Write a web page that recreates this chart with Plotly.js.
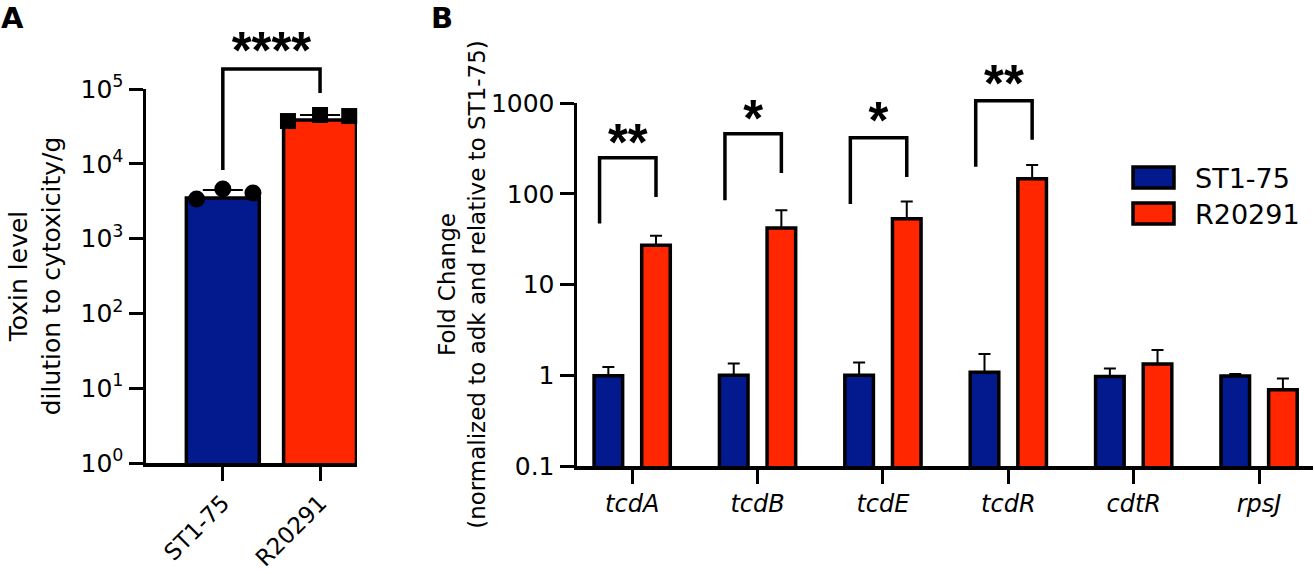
<!DOCTYPE html>
<html><head><meta charset="utf-8">
<script src="https://cdn.plot.ly/plotly-3.0.1.min.js"></script>
<style>html,body{margin:0;padding:0;background:#fff}#chart{width:1315px;height:574px}</style>
</head><body><div id="chart"></div>
<script>
// ---------- Panel A data ----------
const strains = ['ST1-75', 'R20291'];
const strainColors = ['#021a8e', '#ff2600'];
const toxinMean = [3500, 38500];
const toxinSD = [950, 6400];
const toxinST175 = [3380, 4600, 4070];
const toxinR20291 = [37300, 44900, 43500];
const jitterST175 = [-0.27, 0, 0.31];
const jitterR20291 = [-0.33, 0, 0.30];
const toxinTickVals = [1, 10, 100, 1000, 10000, 100000];
const toxinTickText = ['10<sup>0</sup>', '10<sup>1</sup>', '10<sup>2</sup>', '10<sup>3</sup>', '10<sup>4</sup>', '10<sup>5</sup>'];
const toxinSigLabel = '****';
const toxinSigTop = 185000;
const toxinSigLeftEnd = 8260;
const toxinSigRightEnd = 88500;
const toxinSigTextY = 285000;

// ---------- Panel B data ----------
const genes = ['tcdA', 'tcdB', 'tcdE', 'tcdR', 'cdtR', 'rpsJ'];
const st175 = [0.99, 1.0, 1.0, 1.08, 0.97, 0.98];
const st175Err = [0.24, 0.35, 0.38, 0.64, 0.22, 0.05];
const r20291 = [27, 42, 53, 146, 1.33, 0.69];
const r20291Err = [7.4, 24, 29, 61, 0.57, 0.23];
const foldTickVals = [0.1, 1, 10, 100, 1000];
const foldTickText = ['0.1', '1', '10', '100', '1000'];
const sigGeneIdx = [0, 1, 2, 3];
const sigLabels = ['**', '*', '*', '**'];
const sigTop = [249, 457, 413, 1057];
const sigLeftEnd = [47, 85, 77, 198];
const sigRightEnd = [92, 169, 153, 393];
const sigTextY = [329, 605, 575, 1436];

// ---------- style ----------
const FONT = 'DejaVu Sans, Verdana, sans-serif';
const STARFONT = 'Liberation Sans, Arial, sans-serif';
const BLACK = '#000000';
const bracketLeft = -0.26, bracketRight = 0.19;
const starFont = {family: STARFONT, size: 51, color: BLACK, weight: 'bold'};

const W = 1315, H = 574;
// plot areas (pixel edges)
const aLeft = 146, aRight = 357, aBottom = 463, aTop = 89;
const bLeft = 577, bRight = 1313, bBottom = 466, bTop = 103;
const yA = [1 - aBottom / H, 1 - aTop / H];
const yB = [1 - bBottom / H, 1 - bTop / H];
const rangeA = [0, 5], rangeB = [-1, 3];
// taller invisible companions (same scale) so brackets/stars above the axis top are not clipped
const rangeA2 = [rangeA[0], rangeA[0] + (rangeA[1] - rangeA[0]) * (1 - yA[0]) / (yA[1] - yA[0])];
const rangeB2 = [rangeB[0], rangeB[0] + (rangeB[1] - rangeB[0]) * (1 - yB[0]) / (yB[1] - yB[0])];

const traces = [];

// Panel A bars
traces.push({
  type: 'bar', x: [0, 1], y: toxinMean, width: 0.75,
  marker: {color: strainColors, line: {color: BLACK, width: 3.5}},
  error_y: {type: 'data', array: toxinSD, arrayminus: [0, 0], symmetric: false, color: BLACK, thickness: 2, width: 20},
  xaxis: 'x', yaxis: 'y', showlegend: false, hoverinfo: 'skip'
});
traces.push({
  type: 'scatter', mode: 'markers', x: jitterST175.map(j => 0 + j), y: toxinST175,
  marker: {symbol: 'circle', size: 17, color: BLACK},
  xaxis: 'x', yaxis: 'y', showlegend: false, cliponaxis: false, hoverinfo: 'skip'
});
traces.push({
  type: 'scatter', mode: 'markers', x: jitterR20291.map(j => 1 + j), y: toxinR20291,
  marker: {symbol: 'square', size: 16, color: BLACK},
  xaxis: 'x', yaxis: 'y', showlegend: false, cliponaxis: false, hoverinfo: 'skip'
});
traces.push({
  type: 'scatter', mode: 'lines', x: [0, 0, 1, 1],
  y: [toxinSigLeftEnd, toxinSigTop, toxinSigTop, toxinSigRightEnd],
  line: {color: BLACK, width: 3.5}, xaxis: 'x', yaxis: 'y3', showlegend: false, cliponaxis: false, hoverinfo: 'skip'
});
traces.push({
  type: 'scatter', mode: 'text', x: [0.5], y: [toxinSigTextY], text: [toxinSigLabel],
  textposition: 'middle center', textfont: starFont,
  xaxis: 'x', yaxis: 'y3', showlegend: false, cliponaxis: false, hoverinfo: 'skip'
});

// Panel B bars
traces.push({
  type: 'bar', name: strains[0], x: genes.map((g, i) => i), y: st175,
  marker: {color: strainColors[0], line: {color: BLACK, width: 3.5}},
  error_y: {type: 'data', array: st175Err, arrayminus: st175Err.map(() => 0), symmetric: false, color: BLACK, thickness: 2, width: 6},
  xaxis: 'x2', yaxis: 'y2', hoverinfo: 'skip'
});
traces.push({
  type: 'bar', name: strains[1], x: genes.map((g, i) => i), y: r20291,
  marker: {color: strainColors[1], line: {color: BLACK, width: 3.5}},
  error_y: {type: 'data', array: r20291Err, arrayminus: r20291Err.map(() => 0), symmetric: false, color: BLACK, thickness: 2, width: 6},
  xaxis: 'x2', yaxis: 'y2', hoverinfo: 'skip'
});
sigGeneIdx.forEach((g, k) => {
  traces.push({
    type: 'scatter', mode: 'lines',
    x: [g + bracketLeft, g + bracketLeft, g + bracketRight, g + bracketRight],
    y: [sigLeftEnd[k], sigTop[k], sigTop[k], sigRightEnd[k]],
    line: {color: BLACK, width: 3.5}, xaxis: 'x2', yaxis: 'y4', showlegend: false, cliponaxis: false, hoverinfo: 'skip'
  });
});
traces.push({
  type: 'scatter', mode: 'text',
  x: sigGeneIdx.map(g => g + (bracketLeft + bracketRight) / 2), y: sigTextY, text: sigLabels,
  textposition: 'middle center', textfont: starFont,
  xaxis: 'x2', yaxis: 'y4', showlegend: false, cliponaxis: false, hoverinfo: 'skip'
});

const axisCommon = {
  ticks: 'outside', ticklen: 14, tickwidth: 3, tickcolor: BLACK,
  showline: true, linewidth: 3.5, linecolor: BLACK, showgrid: false, zeroline: false,
  tickfont: {family: FONT, size: 25, color: BLACK}, fixedrange: true
};
const hiddenAxis = {visible: false, showgrid: false, zeroline: false, showline: false, showticklabels: false, ticks: '', fixedrange: true};

const layout = {
  width: W, height: H, margin: {l: 0, r: 0, t: 0, b: 0},
  paper_bgcolor: '#ffffff', plot_bgcolor: 'rgba(0,0,0,0)',
  font: {family: FONT, color: BLACK, size: 24},
  showlegend: false, barmode: 'group', bargap: 0.24, bargroupgap: 0.4,
  xaxis: Object.assign({}, axisCommon, {
    domain: [aLeft / W, aRight / W], range: [-0.79, 1.38], tickvals: [0, 1], ticktext: strains,
    tickangle: -45, anchor: 'y', tickfont: {family: FONT, size: 23, color: BLACK}
  }),
  yaxis: Object.assign({}, axisCommon, {
    domain: yA, type: 'log', range: rangeA,
    tickvals: toxinTickVals, ticktext: toxinTickText, anchor: 'x',
    title: {text: 'Toxin level<br>dilution to cytoxicity/g', font: {family: FONT, size: 25, color: BLACK}, standoff: 14}
  }),
  yaxis3: Object.assign({}, hiddenAxis, {domain: [yA[0], 1], type: 'log', range: rangeA2, anchor: 'x'}),
  xaxis2: Object.assign({}, axisCommon, {
    domain: [bLeft / W, bRight / W], range: [-0.44, 5.43], tickvals: genes.map((g, i) => i),
    ticktext: genes.map(g => '<i>' + g + '</i>'), anchor: 'y2', tickfont: {family: FONT, size: 24, color: BLACK}
  }),
  yaxis2: Object.assign({}, axisCommon, {
    domain: yB, type: 'log', range: rangeB,
    tickvals: foldTickVals, ticktext: foldTickText, anchor: 'x2',
    title: {text: 'Fold Change<br>(normalized to adk and relative to ST1-75)', font: {family: FONT, size: 23, color: BLACK}, standoff: 0}
  }),
  yaxis4: Object.assign({}, hiddenAxis, {domain: [yB[0], 1], type: 'log', range: rangeB2, anchor: 'x2'}),
  shapes: [
    {type: 'rect', xref: 'paper', yref: 'paper', x0: 1133 / W, x1: 1174 / W, y0: 1 - 188 / H, y1: 1 - 167 / H,
     fillcolor: strainColors[0], line: {color: BLACK, width: 3.5}},
    {type: 'rect', xref: 'paper', yref: 'paper', x0: 1133 / W, x1: 1174 / W, y0: 1 - 224 / H, y1: 1 - 203 / H,
     fillcolor: strainColors[1], line: {color: BLACK, width: 3.5}}
  ],
  annotations: [
    {text: strains[0], xref: 'paper', yref: 'paper', x: 1193 / W, y: 1 - 178 / H, xanchor: 'left', yanchor: 'middle',
     showarrow: false, font: {family: FONT, size: 27, color: BLACK}},
    {text: strains[1], xref: 'paper', yref: 'paper', x: 1193 / W, y: 1 - 214 / H, xanchor: 'left', yanchor: 'middle',
     showarrow: false, font: {family: FONT, size: 27, color: BLACK}},
    {text: '<b>A</b>', xref: 'paper', yref: 'paper', x: 0, y: 1, xanchor: 'left', yanchor: 'top', borderpad: 0,
     showarrow: false, font: {family: FONT, size: 29, color: BLACK}},
    {text: '<b>B</b>', xref: 'paper', yref: 'paper', x: 430 / W, y: 1, xanchor: 'left', yanchor: 'top', borderpad: 0,
     showarrow: false, font: {family: FONT, size: 29, color: BLACK}}
  ]
};

Plotly.newPlot('chart', traces, layout, {displayModeBar: false, staticPlot: true});
</script>
</body></html>
